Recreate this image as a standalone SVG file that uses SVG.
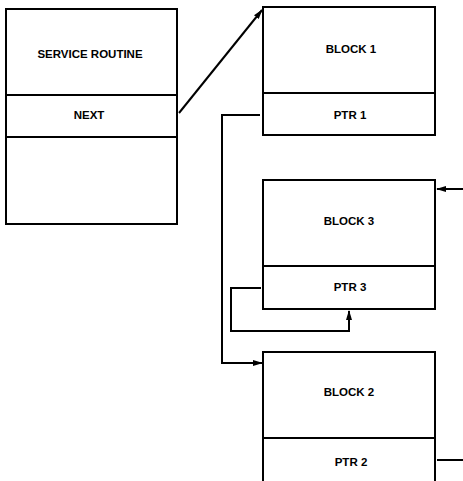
<svg xmlns="http://www.w3.org/2000/svg" width="463" height="481" viewBox="0 0 463 481">
<style>
.box{fill:#fff;stroke:#000;stroke-width:2}
.div{stroke:#000;stroke-width:2;fill:none}
.lbl{font-family:"Liberation Sans",Arial,sans-serif;font-weight:bold;font-size:11.5px;text-anchor:middle;fill:#000}
.con{stroke:#000;stroke-width:2;fill:none}
</style>
<defs>
<marker id="ah" markerWidth="10" markerHeight="8" refX="9" refY="4" orient="auto" markerUnits="userSpaceOnUse">
<path d="M0,1 L10,4 L0,7 Z" fill="#000"/>
</marker>
</defs>
<g id="service-routine">
<rect class="box" x="6" y="9" width="171" height="215"/>
<line class="div" x1="6" y1="95" x2="177" y2="95"/>
<line class="div" x1="6" y1="137" x2="177" y2="137"/>
<text class="lbl" x="90" y="58">SERVICE ROUTINE</text>
<text class="lbl" x="89" y="119">NEXT</text>
</g>
<g id="block1">
<rect class="box" x="263" y="7" width="172" height="128"/>
<line class="div" x1="263" y1="93" x2="435" y2="93"/>
<text class="lbl" x="351" y="53">BLOCK 1</text>
<text class="lbl" x="350" y="119">PTR 1</text>
</g>
<g id="block3">
<rect class="box" x="263" y="180" width="172" height="129"/>
<line class="div" x1="263" y1="266" x2="435" y2="266"/>
<text class="lbl" x="349" y="225">BLOCK 3</text>
<text class="lbl" x="350" y="291">PTR 3</text>
</g>
<g id="block2">
<rect class="box" x="263" y="352" width="172" height="135"/>
<line class="div" x1="263" y1="438" x2="435" y2="438"/>
<text class="lbl" x="349" y="396">BLOCK 2</text>
<text class="lbl" x="351" y="466">PTR 2</text>
</g>
<g id="connectors">
<line class="con" x1="179" y1="113" x2="262" y2="10" marker-end="url(#ah)"/>
<polyline class="con" points="260,115 222,115 222,363 262,363" marker-end="url(#ah)"/>
<polyline class="con" points="261,288 231,288 231,331 349,331 349,311" marker-end="url(#ah)"/>
<line class="con" x1="463" y1="189" x2="437" y2="189" marker-end="url(#ah)"/>
<line class="con" x1="437" y1="460" x2="463" y2="460"/>
</g>
</svg>
